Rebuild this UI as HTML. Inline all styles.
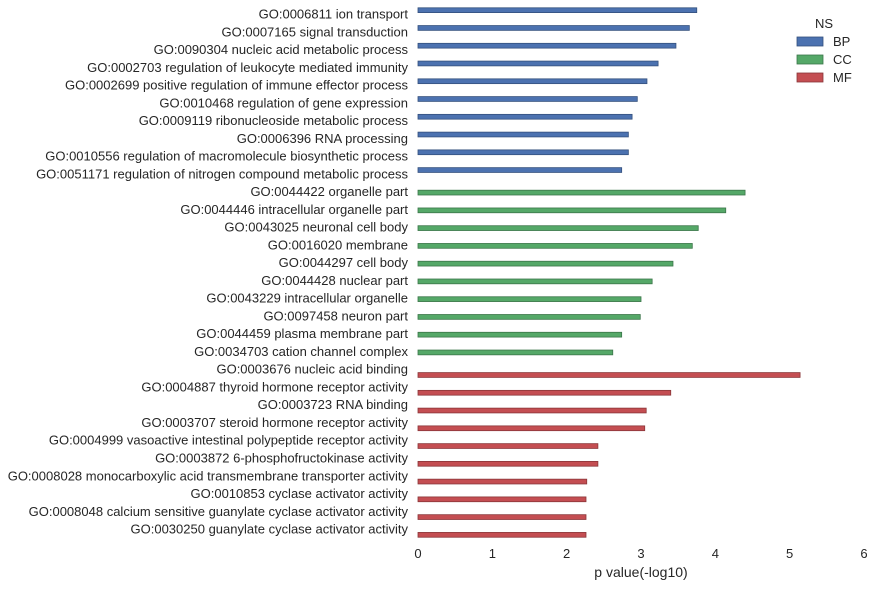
<!DOCTYPE html>
<html><head><meta charset="utf-8"><style>
body{margin:0;background:#fff;}
svg text{font-family:"Liberation Sans",sans-serif;fill:#262626;}
</style></head><body>
<svg id="chart" width="874" height="587" xmlns="http://www.w3.org/2000/svg"></svg>
<script>
const bpTerms=["GO:0006811 ion transport","GO:0007165 signal transduction","GO:0090304 nucleic acid metabolic process","GO:0002703 regulation of leukocyte mediated immunity","GO:0002699 positive regulation of immune effector process","GO:0010468 regulation of gene expression","GO:0009119 ribonucleoside metabolic process","GO:0006396 RNA processing","GO:0010556 regulation of macromolecule biosynthetic process","GO:0051171 regulation of nitrogen compound metabolic process"];
const bpValues=[3.75,3.65,3.47,3.23,3.08,2.95,2.88,2.83,2.83,2.74];
const ccTerms=["GO:0044422 organelle part","GO:0044446 intracellular organelle part","GO:0043025 neuronal cell body","GO:0016020 membrane","GO:0044297 cell body","GO:0044428 nuclear part","GO:0043229 intracellular organelle","GO:0097458 neuron part","GO:0044459 plasma membrane part","GO:0034703 cation channel complex"];
const ccValues=[4.40,4.14,3.77,3.69,3.43,3.15,3.00,2.99,2.74,2.62];
const mfTerms=["GO:0003676 nucleic acid binding","GO:0004887 thyroid hormone receptor activity","GO:0003723 RNA binding","GO:0003707 steroid hormone receptor activity","GO:0004999 vasoactive intestinal polypeptide receptor activity","GO:0003872 6-phosphofructokinase activity","GO:0008028 monocarboxylic acid transmembrane transporter activity","GO:0010853 cyclase activator activity","GO:0008048 calcium sensitive guanylate cyclase activator activity","GO:0030250 guanylate cyclase activator activity"];
const mfValues=[5.14,3.40,3.07,3.05,2.42,2.42,2.27,2.26,2.26,2.26];
const xTicks=[0,1,2,3,4,5,6];
const groups=["BP","CC","MF"];
const colors={BP:"#4c72b0",CC:"#55a868",MF:"#c44e52"};
const edges={BP:"#34507d",CC:"#3b7549",MF:"#8a3639"};

const svg=document.getElementById('chart');
const NS="http://www.w3.org/2000/svg";
function mk(t,a,p){const e=document.createElementNS(NS,t);for(const k in a)e.setAttribute(k,a[k]);(p||svg).appendChild(e);return e;}
const x0=418,x1=864,xmax=6;
const xs=v=>x0+v*(x1-x0)/xmax;
const c0=15,step=17.76,w=4.8;
const ys=i=>c0+i*step;
const sets=[["BP",bpTerms,bpValues],["CC",ccTerms,ccValues],["MF",mfTerms,mfValues]];
let idx=0;
sets.forEach(([g,terms,vals],gi)=>{
  terms.forEach((t,j)=>{
    const c=ys(idx);
    const lab=mk('text',{x:408,y:c+3.5,'text-anchor':'end','font-size':13});
    lab.textContent=t;
    
    
    const bc=c+(gi-1)*w;
    const r=mk('rect',{x:x0,y:bc-w/2,width:xs(vals[j])-x0,height:w,fill:colors[g],stroke:edges[g],'stroke-width':0.8});
    
    
    idx++;
  });
});
xTicks.forEach(v=>{
  const t=mk('text',{x:xs(v),y:558,'text-anchor':'middle','font-size':13});
  t.textContent=v;
  
  
});
const xt=mk('text',{x:641,y:577,'text-anchor':'middle','font-size':14});
xt.textContent="p value(-log10)";


const lg=mk('g',{});


const lt=mk('text',{x:824,y:28,'text-anchor':'middle','font-size':13},lg);
lt.textContent="NS";
groups.forEach((g,i)=>{
  const r=mk('rect',{x:797,y:37+i*18,width:26,height:9,fill:colors[g],stroke:edges[g],'stroke-width':0.8},lg);
  
  
  const t=mk('text',{x:833,y:46+i*18,'font-size':13},lg);
  t.textContent=g;
  
  
});
</script>
</body></html>
